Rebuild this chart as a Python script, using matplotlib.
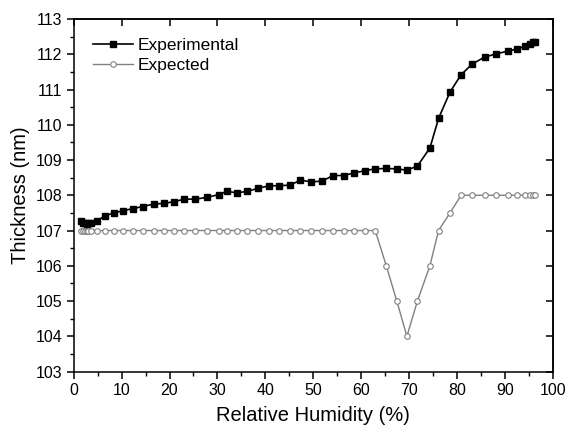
import matplotlib
matplotlib.use("Agg")
import matplotlib.pyplot as plt
from matplotlib.ticker import MultipleLocator

plt.rcParams['font.family'] = ['Liberation Sans', 'DejaVu Sans']

rh = [1.5, 1.9, 2.3, 2.7, 3.1, 3.6, 4.9, 6.6, 8.4, 10.3, 12.3, 14.4, 16.7, 18.9,
      21.0, 23.1, 25.4, 27.8, 30.3, 31.9, 34.1, 36.2, 38.5, 40.8, 42.9, 45.2,
      47.3, 49.5, 51.8, 54.1, 56.3, 58.4, 60.8, 62.9, 65.2, 67.4, 69.5, 71.7,
      74.3, 76.1, 78.5, 80.8, 83.1, 85.7, 88.1, 90.6, 92.5, 94.2, 95.1, 95.8, 96.3]

experimental = [107.28, 107.22, 107.2, 107.18, 107.2, 107.22, 107.28, 107.42, 107.5,
                107.56, 107.62, 107.68, 107.75, 107.77, 107.82, 107.89, 107.89,
                107.94, 108.02, 108.11, 108.07, 108.11, 108.2, 108.27, 108.27,
                108.29, 108.43, 108.38, 108.4, 108.56, 108.56, 108.63, 108.7,
                108.75, 108.76, 108.75, 108.71, 108.83, 109.34, 110.18, 110.93,
                111.42, 111.72, 111.92, 112.01, 112.09, 112.15, 112.23, 112.3,
                112.34, 112.36]

expected = [107.0] * 34 + [106.0, 105.0, 104.0, 105.0, 106.0, 107.0, 107.5,
                           108.0, 108.0, 108.0, 108.0, 108.0, 108.0, 108.0,
                           108.0, 108.0, 108.0]

xticks = list(range(0, 101, 10))
yticks = list(range(103, 114))

fig = plt.figure(figsize=(5.75, 4.32), dpi=100)
ax = fig.add_axes([0.128, 0.140, 0.834, 0.816])

ax.plot(rh, expected, color='#808080', lw=1.0, marker='o', ms=4,
        mfc='white', mec='#808080', mew=0.8, label='Expected', zorder=2)
ax.plot(rh, experimental, color='black', lw=1.2, marker='s', ms=4.5,
        mfc='black', mec='black', label='Experimental', zorder=3)

ax.set_xlim(0, 100)
ax.set_ylim(103, 113)
ax.set_xticks(xticks)
ax.set_yticks(yticks)
ax.xaxis.set_minor_locator(MultipleLocator(5))
ax.yaxis.set_minor_locator(MultipleLocator(0.5))
ax.tick_params(which='major', direction='out', length=5, width=1.1,
               labelsize=11.5, top=False, right=False, pad=3)
ax.tick_params(which='minor', direction='out', length=3, width=1.0,
               top=False, right=False)

# top & right inward major ticks
sec_x = ax.secondary_xaxis('top')
sec_x.set_xticks(xticks)
sec_x.tick_params(direction='in', length=5, width=1.1, labeltop=False)
sec_y = ax.secondary_yaxis('right')
sec_y.set_yticks(yticks)
sec_y.tick_params(direction='in', length=5, width=1.1, labelright=False)
for s in list(ax.spines.values()) + [sec_x.spines['top'], sec_y.spines['right']]:
    s.set_linewidth(1.1)

ax.set_xlabel('Relative Humidity (%)', fontsize=14.5, labelpad=6)
ax.set_ylabel('Thickness (nm)', fontsize=14.5, labelpad=4)

handles, labels = ax.get_legend_handles_labels()
ax.legend(handles[::-1], labels[::-1], loc='upper left',
          bbox_to_anchor=(0.040, 0.946), borderaxespad=0, borderpad=0,
          frameon=False, fontsize=12.5, handlelength=2.3, handletextpad=0.3,
          labelspacing=0.25, numpoints=1)

fig.savefig('out.png', dpi=100)
